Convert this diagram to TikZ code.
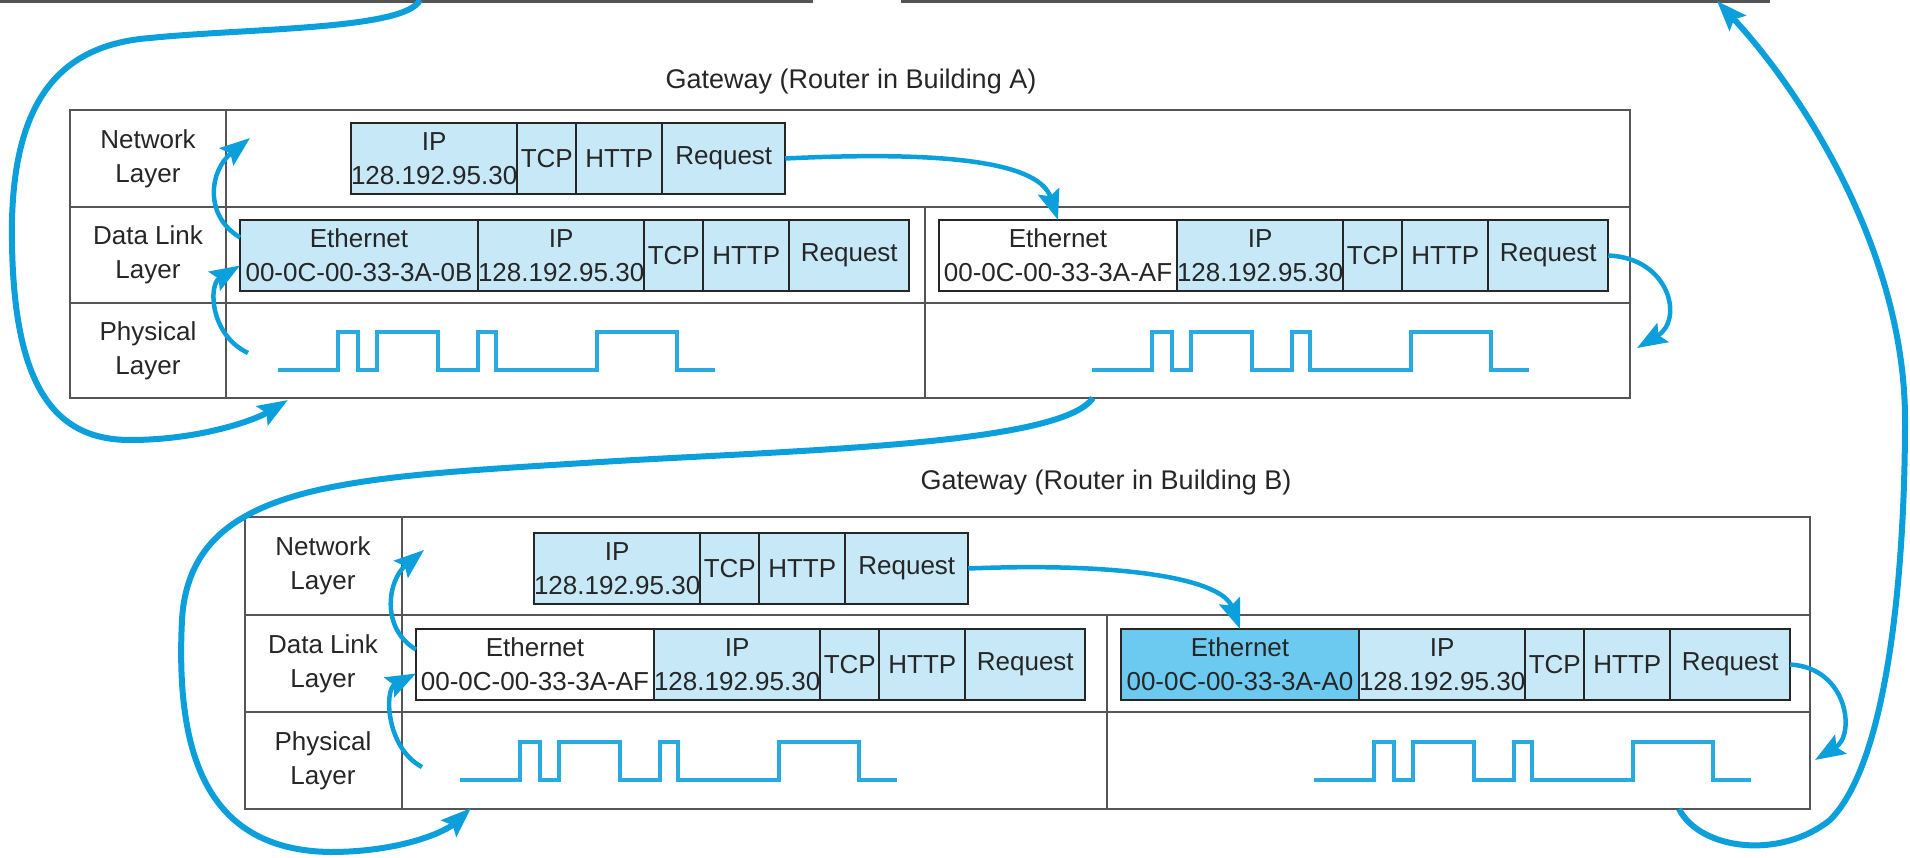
\documentclass[tikz,border=0pt]{standalone}
\usepackage{fontspec}
\setmainfont{Liberation Sans}
\usetikzlibrary{arrows.meta,positioning}
\definecolor{txt}{HTML}{262626}
\definecolor{rule}{HTML}{555555}
\definecolor{pkt}{HTML}{C6E8F7}
\definecolor{hot}{HTML}{6CCAF0}
\definecolor{flowc}{HTML}{0B9FDB}
\definecolor{wav}{HTML}{29AAE1}
\tikzset{
  tabline/.style={draw=rule,line width=2.5pt},
  cell/.style={draw=txt,line width=2pt,fill=pkt,text=txt,inner sep=0pt,outer sep=0pt,
    minimum height=71pt,align=center,font=\fontsize{26}{34}\selectfont},
  lbl/.style={text=txt,align=center,font=\fontsize{26}{34}\selectfont},
  ttl/.style={text=txt,font=\fontsize{27}{32}\selectfont},
  flow/.style={draw=flowc,line width=4.5pt,-{Stealth[length=30pt,width=22pt,inset=5pt]}},
  bigflow/.style={flow,line width=6pt},
  sig/.style={draw=wav,line width=3.5pt}
}
% frame on the data link layer: name prefix, top left corner, MAC, fill of Ethernet cell
\newcommand\dlpacket[4]{
  \node[cell,fill=#4,minimum width=238pt,anchor=north west] (#1eth) at #2 {Ethernet\\#3};
  \node[cell,minimum width=166pt,right=0pt of #1eth] (#1ip) {IP\\128.192.95.30};
  \node[cell,minimum width=59pt,right=0pt of #1ip] (#1tcp) {TCP};
  \node[cell,minimum width=86pt,right=0pt of #1tcp] (#1http) {HTTP};
  \node[cell,minimum width=120pt,right=0pt of #1http] (#1req) {Request};
}
% packet on the network layer
\newcommand\netpacket[2]{
  \node[cell,minimum width=166pt,anchor=north west] (#1ip) at #2 {IP\\128.192.95.30};
  \node[cell,minimum width=59pt,right=0pt of #1ip] (#1tcp) {TCP};
  \node[cell,minimum width=86pt,right=0pt of #1tcp] (#1http) {HTTP};
  \node[cell,minimum width=123pt,right=0pt of #1http] (#1req) {Request};
}
% bits on the wire
\newcommand\bitwave[1]{
  \draw[sig] #1 -- ++(60,0) -- ++(0,-38) -- ++(20,0) -- ++(0,38) -- ++(19,0) -- ++(0,-38)
    -- ++(61,0) -- ++(0,38) -- ++(40,0) -- ++(0,-38) -- ++(18,0) -- ++(0,38) -- ++(101,0)
    -- ++(0,-38) -- ++(80,0) -- ++(0,38) -- ++(38,0);
}
\begin{document}
\begin{tikzpicture}[x=1pt,y=-1pt]     % one unit is one pixel, y runs down
\useasboundingbox (0,0) rectangle (1910,858);
% the hosts above, cut off
\draw[tabline] (0,1.5) -- (813,1.5) (104,0) -- (104,1.5);
\draw[tabline] (901,1.5) -- (1770,1.5) (1060,0) -- (1060,1.5);

% Gateway A
\node[ttl] (attl) at (851,82) {Gateway (Router in Building A)};
\draw[tabline] (70,110) rectangle (1630,398);
\draw[tabline] (226,110) -- (226,398) (70,207) -- (1630,207) (70,303) -- (1630,303) (925,207) -- (925,398);
\node[lbl] (anetl) at (148,158.5) {Network\\Layer};
\node[lbl] (adll) at (148,255) {Data Link\\Layer};
\node[lbl] (aphyl) at (148,350.5) {Physical\\Layer};
\netpacket{an}{(351,123)}
\dlpacket{a}{(240,220)}{00-0C-00-33-3A-0B}{pkt}
\dlpacket{a2}{(939,220)}{00-0C-00-33-3A-AF}{white}
\bitwave{(278,370)}
\bitwave{(1092,370)}

% Gateway B
\node[ttl] (bttl) at (1106,483) {Gateway (Router in Building B)};
\draw[tabline] (245,517) rectangle (1810,809);
\draw[tabline] (402,517) -- (402,809) (245,615) -- (1810,615) (245,712) -- (1810,712) (1107,615) -- (1107,809);
\node[lbl] (bnetl) at (323,566) {Network\\Layer};
\node[lbl] (bdll) at (323,663.5) {Data Link\\Layer};
\node[lbl] (bphyl) at (323,760.5) {Physical\\Layer};
\netpacket{bn}{(534,533)}
\dlpacket{b}{(416,629)}{00-0C-00-33-3A-AF}{white}
\dlpacket{b2}{(1121,629)}{00-0C-00-33-3A-A0}{hot}
\bitwave{(460,780)}
\bitwave{(1314,780)}

% free ends of the arrows
\coordinate (topl) at (420,0);
\coordinate (ain) at (288,400);
\coordinate (aphy) at (248,353);
\coordinate (anet) at (250,138);
\coordinate (aphy2) at (1637,348);
\coordinate (aout) at (1093,398);
\coordinate (bin) at (471,808);
\coordinate (bphy) at (422,767);
\coordinate (bnet) at (424,550);
\coordinate (bphy2) at (1815,760);
\coordinate (bout) at (1679,809);
\coordinate (topr) at (1717,1);

% up and down the layers
\draw[flow] (aphy) .. controls (210,335) and (208,285) .. ([yshift=-10pt]aeth.west);
\draw[flow] ([yshift=18pt]aeth.west) .. controls (203,215) and (210,170) .. (anet);
\draw[flow] (anreq.east) .. controls (960,150) and (1040,165) .. (a2eth.north);
\draw[flow] (a2req.east) .. controls (1670,258) and (1684,320) .. (aphy2);
\draw[flow] (bphy) .. controls (386,748) and (384,690) .. ([yshift=-9pt]beth.west);
\draw[flow] ([yshift=15pt]beth.west) .. controls (380,628) and (388,580) .. (bnet);
\draw[flow] (bnreq.east) .. controls (1130,562) and (1222,580) .. (b2eth.north);
\draw[flow] (b2req.east) .. controls (1848,668) and (1856,735) .. (bphy2);

% across the wires
\draw[bigflow] (topl) .. controls (405,30) and (250,28) .. (150,38) .. controls (60,45) and (15,100) .. (12,220)
  .. controls (10,380) and (50,440) .. (130,440) .. controls (200,440) and (255,420) .. (ain);
\draw[bigflow] (aout) .. controls (1060,445) and (800,450) .. (600,462) .. controls (350,478) and (190,480) .. (182,620)
  .. controls (175,760) and (210,850) .. (330,852) .. controls (400,852) and (445,832) .. (bin);
\draw[bigflow] (bout) .. controls (1700,850) and (1780,860) .. (1830,820) .. controls (1890,760) and (1905,560) .. (1905,420)
  .. controls (1905,250) and (1800,90) .. (topr);
\end{tikzpicture}
\end{document}
